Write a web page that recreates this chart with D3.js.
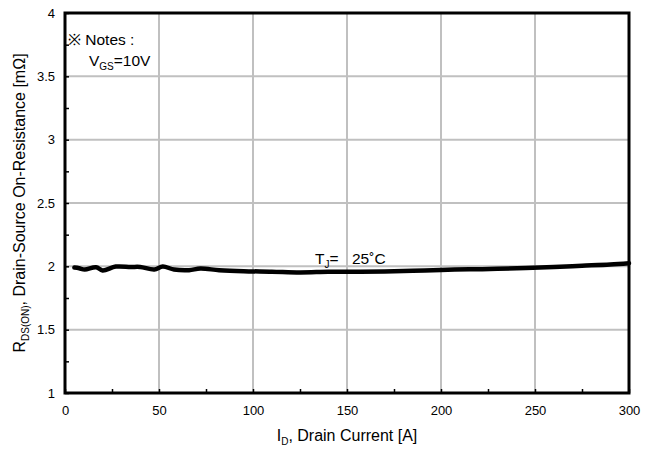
<!DOCTYPE html>
<html>
<head>
<meta charset="utf-8">
<script src="https://cdn.jsdelivr.net/npm/d3@7"></script>
<style>
  body { margin: 0; background: #fff; }
  text { font-family: "Liberation Sans", Arial, sans-serif; fill: #000; }
</style>
</head>
<body>
<div id="chart"></div>
<script>
// data
var current = [5, 7.5, 10.5, 16.5, 20, 27, 35, 40, 47.5, 52, 58, 66, 72, 82, 95, 110, 125, 140, 155,
               170, 185, 200, 215, 230, 245, 260, 275, 290, 300];
var rdson = [1.99, 1.985, 1.975, 1.993, 1.968, 1.998, 1.995, 1.995, 1.975, 1.998, 1.975, 1.97, 1.982, 1.97, 1.962, 1.958, 1.952, 1.957, 1.958,
             1.96, 1.965, 1.972, 1.976, 1.98, 1.987, 1.995, 2.005, 2.015, 2.025];
var xTicks = [0, 50, 100, 150, 200, 250, 300];
var yTicks = [1, 1.5, 2, 2.5, 3, 3.5, 4];
var xMinor = [25, 75, 125, 175, 225, 275];
var yMinor = [1.25, 1.75, 2.25, 2.75, 3.25, 3.75];

var width = 648, height = 449;
var margin = { top: 13, right: 19, bottom: 56, left: 65 };
var w = width - margin.left - margin.right,
    h = height - margin.top - margin.bottom;

var svg = d3.select("#chart").append("svg")
    .attr("width", width)
    .attr("height", height);

var g = svg.append("g")
    .attr("transform", "translate(" + margin.left + "," + margin.top + ")");

var x = d3.scaleLinear().domain([0, 300]).range([0, w]);
var y = d3.scaleLinear().domain([1, 4]).range([h, 0]);

// grid
g.selectAll(".vgrid").data(xTicks.slice(1, -1)).enter().append("line")
    .attr("x1", d => x(d)).attr("x2", d => x(d))
    .attr("y1", 0).attr("y2", h)
    .attr("stroke", "#c0c0c0").attr("stroke-width", 2);
g.selectAll(".hgrid").data(yTicks.slice(1, -1)).enter().append("line")
    .attr("x1", 0).attr("x2", w)
    .attr("y1", d => y(d)).attr("y2", d => y(d))
    .attr("stroke", "#c0c0c0").attr("stroke-width", 2);

// axes (ticks pointing inward)
var xAxis = g.append("g").attr("transform", "translate(0," + h + ")")
    .call(d3.axisBottom(x).tickValues(xTicks.concat(xMinor)).tickSize(-4).tickFormat(d => xTicks.indexOf(d) >= 0 ? d : ""));
var yAxis = g.append("g")
    .call(d3.axisLeft(y).tickValues(yTicks.concat(yMinor)).tickSize(-4).tickFormat(d => yTicks.indexOf(d) >= 0 ? d : ""));
[xAxis, yAxis].forEach(function(a) {
    a.select(".domain").remove();
    a.selectAll(".tick line").attr("stroke", "#000").attr("stroke-width", 1.5);
    a.selectAll("text").style("font-size", "13px").attr("font-family", null);
});
xAxis.selectAll("text").attr("dy", null).attr("y", 22);
yAxis.selectAll("text").attr("x", -10);

// frame
g.append("rect")
    .attr("width", w).attr("height", h)
    .attr("fill", "none").attr("stroke", "#000").attr("stroke-width", 3);

// curve
var line = d3.line().x((d, i) => x(current[i])).y(d => y(d)).curve(d3.curveCatmullRom);
g.append("path")
    .datum(rdson)
    .attr("d", line)
    .attr("fill", "none")
    .attr("stroke", "#000")
    .attr("stroke-width", 4.5)
    .attr("stroke-linecap", "round");

// annotations
var t = g.append("text").attr("x", 250).attr("y", 251).style("font-size", "15.5px");
t.append("tspan").text("T");
t.append("tspan").attr("dy", 4).style("font-size", "10px").text("J");
t.append("tspan").attr("dy", -4).text("=");
g.append("text").attr("x", 287).attr("y", 251).style("font-size", "15.5px").text("25˚C");

g.append("text").attr("x", 3).attr("y", 32).style("font-size", "15.5px").text("※ Notes :");
var v = g.append("text").attr("x", 24).attr("y", 53).style("font-size", "15.5px");
v.append("tspan").text("V");
v.append("tspan").attr("dy", 4).style("font-size", "10px").text("GS");
v.append("tspan").attr("dy", -4).text("=10V");

// axis titles
var xl = svg.append("text")
    .attr("x", margin.left + w / 2).attr("y", 441)
    .attr("text-anchor", "middle").style("font-size", "16px");
xl.append("tspan").text("I");
xl.append("tspan").attr("dy", 4).style("font-size", "10px").text("D");
xl.append("tspan").attr("dy", -4).text(", Drain Current [A]");

var yl = svg.append("text")
    .attr("transform", "translate(25," + (margin.top + h / 2) + ") rotate(-90)")
    .attr("text-anchor", "middle").style("font-size", "16px");
yl.append("tspan").text("R");
yl.append("tspan").attr("dy", 4).style("font-size", "10px").text("DS(ON)");
yl.append("tspan").attr("dy", -4).text(", Drain-Source On-Resistance [mΩ]");
</script>
</body>
</html>
